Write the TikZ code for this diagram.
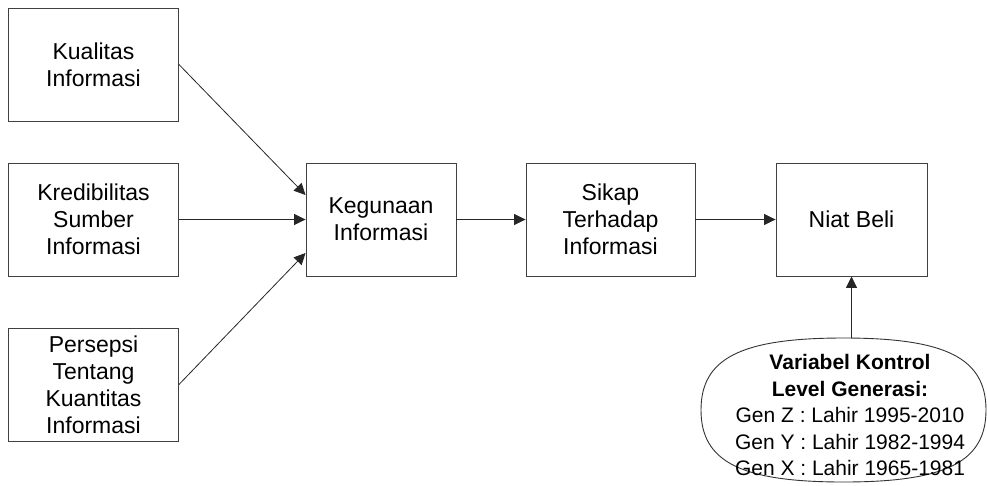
\documentclass[tikz,border=0pt]{standalone}
\usepackage{fontspec}
\setmainfont{Liberation Sans}
\usetikzlibrary{arrows.meta}
\begin{document}
\begin{tikzpicture}[x=1pt,y=-1pt,
  box/.style={draw=black!75, line width=0.9pt, minimum height=113pt, align=center, inner sep=0pt,
    font=\fontsize{23}{27}\selectfont},
  conn/.style={draw=black!85, line width=0.8pt, -{Triangle[length=11.5pt,width=11pt]}}]
\useasboundingbox (0,0) rectangle (987,485);
\node[box, minimum width=170pt] (kual) at (93.5,64.5) {Kualitas\\Informasi};
\node[box, minimum width=170pt] (kred) at (93.5,219.5) {Kredibilitas\\Sumber\\Informasi};
\node[box, minimum width=170pt] (pers) at (93.5,384.5) {Persepsi\\Tentang\\Kuantitas\\Informasi};
\node[box, minimum width=150pt] (keg) at (381,219.5) {Kegunaan\\Informasi};
\node[box, minimum width=169pt] (sikap) at (610.5,219.5) {Sikap\\Terhadap\\Informasi};
\node[box, minimum width=151pt] (niat) at (851.5,219.5) {Niat Beli};
\draw[draw=black!80, line width=0.9pt] (701,410) .. controls (701,358.2) and (741,338) .. (843.5,338)
  .. controls (946,338) and (986,358.2) .. (986,410)
  .. controls (986,461.8) and (946,482) .. (843.5,482)
  .. controls (741,482) and (701,461.8) .. (701,410) -- cycle;
\coordinate (etop) at (851.5,338);
\node[align=center, inner sep=0pt, font=\fontsize{21}{26.5}\selectfont] (ctl) at (850,415)
  {\textbf{Variabel Kontrol}\\\textbf{Level Generasi:}\\Gen Z : Lahir 1995-2010\\Gen Y : Lahir 1982-1994\\Gen X : Lahir 1965-1981};
\draw[conn] (kual.east) -- ([yshift=24.5pt]keg.west);
\draw[conn] (kred.east) -- (keg.west);
\draw[conn] (pers.east) -- ([yshift=-33.5pt]keg.west);
\draw[conn] (keg.east) -- (sikap.west);
\draw[conn] (sikap.east) -- (niat.west);
\draw[conn] (etop) -- (niat.south);
\end{tikzpicture}
\end{document}
